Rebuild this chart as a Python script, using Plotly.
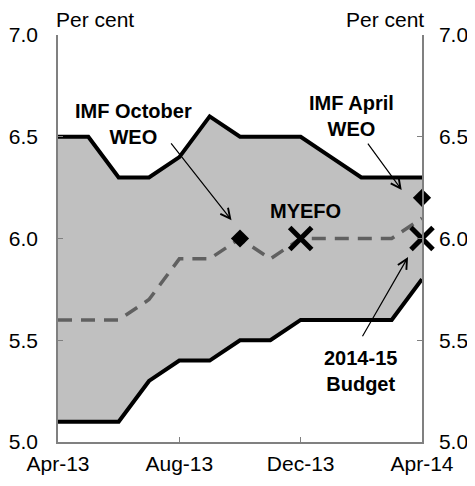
import plotly.graph_objects as go

months = ["Apr-13", "May-13", "Jun-13", "Jul-13", "Aug-13", "Sep-13", "Oct-13",
          "Nov-13", "Dec-13", "Jan-14", "Feb-14", "Mar-14", "Apr-14"]
upper = [6.5, 6.5, 6.3, 6.3, 6.4, 6.6, 6.5, 6.5, 6.5, 6.4, 6.3, 6.3, 6.3]
lower = [5.1, 5.1, 5.1, 5.3, 5.4, 5.4, 5.5, 5.5, 5.6, 5.6, 5.6, 5.6, 5.8]
median = [5.6, 5.6, 5.6, 5.7, 5.9, 5.9, 6.0, 5.9, 6.0, 6.0, 6.0, 6.0, 6.1]

imf_x = ["Oct-13", "Apr-14"]
imf_y = [6.0, 6.2]
aus_x = ["Dec-13", "Apr-14"]
aus_y = [6.0, 6.0]

tick_months = ["Apr-13", "Aug-13", "Dec-13", "Apr-14"]
y_ticks = [5.0, 5.5, 6.0, 6.5, 7.0]

FONT = "Liberation Sans, Arial, sans-serif"
GRAY = "#808080"

fig = go.Figure()
fig.add_trace(go.Scatter(x=months, y=lower, mode="lines",
                         line=dict(color="black", width=4), hoverinfo="skip"))
fig.add_trace(go.Scatter(x=months, y=upper, mode="lines", fill="tonexty",
                         fillcolor="#C0C0C0",
                         line=dict(color="black", width=4), hoverinfo="skip"))
fig.add_trace(go.Scatter(x=months, y=median, mode="lines",
                         line=dict(color="#606060", width=3.5, dash="14px,9px")))
fig.add_trace(go.Scatter(x=imf_x, y=imf_y, mode="markers", cliponaxis=False,
                         marker=dict(symbol="diamond", size=14, color="black")))
fig.add_trace(go.Scatter(x=aus_x, y=aus_y, mode="markers", cliponaxis=False,
                         marker=dict(symbol="x-thin", size=22, color="black",
                                     line=dict(color="black", width=5))))
# invisible traces to anchor the extra y axes
for ax_id in ["y2", "y3", "y4"]:
    fig.add_trace(go.Scatter(x=months, y=upper, yaxis=ax_id, mode="lines",
                             line=dict(width=0), opacity=0, hoverinfo="skip"))

base = dict(range=[5, 7], tickvals=y_ticks, tickformat=".1f",
            showgrid=False, zeroline=False, automargin=False)
label_axis = dict(ticks="outside", tickcolor="rgba(0,0,0,0)",
                  showline=True, linecolor=GRAY, linewidth=1.5,
                  tickfont=dict(family=FONT, size=21, color="black"), **base)
tick_axis = dict(ticks="inside", ticklen=5, tickcolor=GRAY, tickwidth=1,
                 showline=False, showticklabels=False, **base)

annots = []
arrows = [
    ((5.72, 6.09), (3.69, 6.475)),
    ((11.33, 6.238), (10.18, 6.474)),
    ((11.54, 5.909), (10.01, 5.512)),
]
for (hx, hy), (tx, ty) in arrows:
    annots.append(dict(x=hx, y=hy, ax=tx, ay=ty, xref="x", yref="y",
                       axref="x", ayref="y", text="", showarrow=True,
                       arrowhead=5, arrowsize=1.6, arrowwidth=1.2,
                       arrowcolor="black", standoff=0, startstandoff=0))
labels = [
    ("IMF October<br>WEO", 2.48, 6.564),
    ("IMF April<br>WEO", 9.67, 6.601),
    ("MYEFO", 8.17, 6.137),
    ("2014-15<br>Budget", 9.96, 5.351),
]
for txt, lx, ly in labels:
    annots.append(dict(x=lx, y=ly, xref="x", yref="y", text="<b>" + txt + "</b>",
                       showarrow=False, xanchor="center", yanchor="middle",
                       font=dict(family=FONT, size=20, color="black")))
annots.append(dict(x=0, y=1, xref="paper", yref="paper", text="Per cent",
                   showarrow=False, xanchor="left", yanchor="bottom",
                   xshift=-4, yshift=2, font=dict(family=FONT, size=21, color="black")))
annots.append(dict(x=1, y=1, xref="paper", yref="paper", text="Per cent",
                   showarrow=False, xanchor="right", yanchor="bottom",
                   xshift=4, yshift=2, font=dict(family=FONT, size=21, color="black")))

fig.update_layout(
    width=459, height=470,
    margin=dict(l=50, r=45, t=27, b=36, autoexpand=False),
    paper_bgcolor="white", plot_bgcolor="white",
    showlegend=False,
    xaxis=dict(type="category", categoryorder="array", categoryarray=months,
               range=[0, 12], tickvals=tick_months, ticktext=tick_months,
               ticks="inside", ticklen=5, tickcolor=GRAY,
               showline=True, linecolor=GRAY, linewidth=1.5,
               showgrid=False, zeroline=False, automargin=False,
               ticklabelstandoff=2,
               tickfont=dict(family=FONT, size=21, color="black")),
    yaxis=dict(side="left", ticklen=14, **label_axis),
    yaxis2=dict(side="right", overlaying="y", ticklen=11, **label_axis),
    yaxis3=dict(side="left", overlaying="y", **tick_axis),
    yaxis4=dict(side="right", overlaying="y", **tick_axis),
    annotations=annots,
)

fig.write_html("out.html")
